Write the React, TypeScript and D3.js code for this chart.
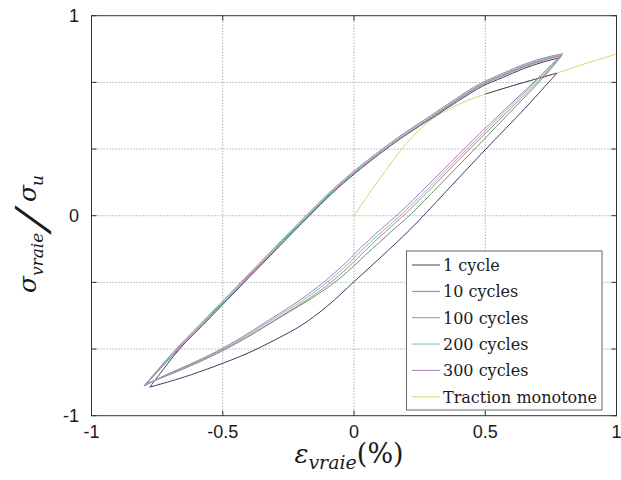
import React from "react";
import * as d3 from "d3";

type P = [number, number];

const xTicks = [-1, -0.5, 0, 0.5, 1];
const xTickLabels = ["-1", "-0.5", "0", "0.5", "1"];
const yTicks = [-1, -2 / 3, -1 / 3, 0, 1 / 3, 2 / 3, 1];
const yLabelTicks = [-1, 0, 1];
const yTickLabels = ["-1", "0", "1"];

const seriesNames = ["1 cycle", "10 cycles", "100 cycles", "200 cycles", "300 cycles", "Traction monotone"];
const seriesColors = ["#3c3c66", "#5f9a6e", "#c47f8e", "#6cc4c0", "#a57fb8", "#d8d27a"];

const monotone: P[] = [[0, 0], [0.06, 0.115], [0.12, 0.225], [0.18, 0.33], [0.24, 0.418], [0.3, 0.485], [0.366, 0.535], [0.43, 0.575], [0.5, 0.608], [0.625, 0.658], [0.773, 0.713], [0.88, 0.76], [1.0, 0.808]];

const cycle1Load: P[] = [[0.5, 0.608], [0.625, 0.658], [0.773, 0.713]];
const cycle1Lower: P[] = [[0.773, 0.713], [0.745, 0.672], [0.65, 0.535], [0.5, 0.33], [0.35, 0.12], [0.213, -0.07], [0.1, -0.21], [0, -0.33], [-0.1, -0.45], [-0.2, -0.548], [-0.3, -0.62], [-0.4, -0.685], [-0.5, -0.738], [-0.62, -0.795], [-0.7, -0.828], [-0.778, -0.857]];
const cycle1Upper: P[] = [[-0.778, -0.857], [-0.745, -0.8], [-0.665, -0.667], [-0.545, -0.505], [-0.418, -0.333], [-0.295, -0.167], [-0.17, 0], [-0.085, 0.11], [0.005, 0.213], [0.122, 0.333], [0.205, 0.41], [0.305, 0.495], [0.395, 0.572], [0.49, 0.648], [0.565, 0.69], [0.645, 0.735], [0.72, 0.768], [0.785, 0.79]];

const cycle10Lower: P[] = [[0.792, 0.802], [0.765, 0.758], [0.71, 0.675], [0.615, 0.545], [0.52, 0.415], [0.42, 0.28], [0.32, 0.145], [0.22, 0.012], [0.14, -0.082], [0.07, -0.165], [0.015, -0.232], [-0.065, -0.325], [-0.14, -0.395], [-0.21, -0.452], [-0.29, -0.515], [-0.39, -0.595], [-0.49, -0.668], [-0.59, -0.732], [-0.69, -0.788], [-0.79, -0.84]];
const cycle10Upper: P[] = [[-0.79, -0.84], [-0.755, -0.79], [-0.668, -0.667], [-0.548, -0.505], [-0.42, -0.333], [-0.298, -0.167], [-0.173, 0], [-0.088, 0.11], [0.002, 0.213], [0.12, 0.333], [0.202, 0.41], [0.302, 0.497], [0.392, 0.578], [0.488, 0.656], [0.562, 0.7], [0.642, 0.745], [0.722, 0.78], [0.792, 0.802]];

const cycle100Lower: P[] = [[0.79, 0.8], [0.76, 0.755], [0.7, 0.67], [0.6, 0.54], [0.5, 0.41], [0.4, 0.28], [0.3, 0.145], [0.2, 0.015], [0.12, -0.08], [0.05, -0.165], [0, -0.23], [-0.08, -0.325], [-0.15, -0.395], [-0.22, -0.455], [-0.3, -0.52], [-0.4, -0.6], [-0.5, -0.672], [-0.6, -0.735], [-0.7, -0.79], [-0.795, -0.845]];
const cycle100Upper: P[] = [[-0.795, -0.845], [-0.76, -0.795], [-0.67, -0.667], [-0.55, -0.505], [-0.423, -0.333], [-0.3, -0.167], [-0.175, 0], [-0.09, 0.11], [0, 0.213], [0.118, 0.333], [0.2, 0.41], [0.3, 0.495], [0.39, 0.575], [0.486, 0.652], [0.56, 0.695], [0.64, 0.74], [0.72, 0.775], [0.79, 0.8]];

const cycle200Lower: P[] = [[0.793, 0.806], [0.752, 0.75], [0.69, 0.668], [0.59, 0.54], [0.49, 0.41], [0.39, 0.28], [0.29, 0.146], [0.19, 0.018], [0.108, -0.078], [0.038, -0.162], [-0.012, -0.228], [-0.092, -0.322], [-0.162, -0.393], [-0.232, -0.455], [-0.312, -0.52], [-0.412, -0.602], [-0.512, -0.675], [-0.612, -0.738], [-0.71, -0.794], [-0.798, -0.848]];
const cycle200Upper: P[] = [[-0.798, -0.848], [-0.764, -0.798], [-0.674, -0.667], [-0.554, -0.505], [-0.427, -0.333], [-0.304, -0.167], [-0.179, 0], [-0.094, 0.11], [-0.004, 0.214], [0.114, 0.334], [0.196, 0.412], [0.296, 0.498], [0.386, 0.578], [0.482, 0.656], [0.556, 0.7], [0.636, 0.745], [0.716, 0.781], [0.793, 0.806]];

const cycle300Lower: P[] = [[0.795, 0.81], [0.745, 0.745], [0.682, 0.664], [0.58, 0.538], [0.478, 0.41], [0.378, 0.28], [0.278, 0.148], [0.178, 0.02], [0.096, -0.075], [0.026, -0.16], [-0.024, -0.226], [-0.104, -0.32], [-0.174, -0.392], [-0.244, -0.455], [-0.324, -0.522], [-0.424, -0.605], [-0.524, -0.679], [-0.624, -0.742], [-0.72, -0.798], [-0.8, -0.852]];
const cycle300Upper: P[] = [[-0.8, -0.852], [-0.767, -0.8], [-0.678, -0.667], [-0.558, -0.505], [-0.431, -0.333], [-0.308, -0.167], [-0.183, 0], [-0.098, 0.11], [-0.008, 0.215], [0.11, 0.336], [0.192, 0.414], [0.292, 0.5], [0.382, 0.58], [0.478, 0.659], [0.552, 0.703], [0.632, 0.749], [0.712, 0.785], [0.795, 0.81]];

const seriesBranches: P[][][] = [
  [cycle1Load, cycle1Lower, cycle1Upper],
  [cycle10Lower, cycle10Upper],
  [cycle100Lower, cycle100Upper],
  [cycle200Lower, cycle200Upper],
  [cycle300Lower, cycle300Upper],
  [monotone],
];

const W = 621;
const H = 480;
const left = 91.5, right = 616.5, top = 15.7, bottom = 415.7;
const SERIF = "DejaVu Serif";
const SANS = "Liberation Sans";

export default function App() {
  const xs = d3.scaleLinear().domain([-1, 1]).range([left, right]);
  const ys = d3.scaleLinear().domain([-1, 1]).range([bottom, top]);
  const line = d3
    .line<P>()
    .x((d) => xs(d[0]))
    .y((d) => ys(d[1]))
    .curve(d3.curveCatmullRom.alpha(0.5));

  const drawOrder = [5, 0, 1, 2, 3, 4];
  const tickLen = 5;
  const gridColor = "#8a8a8a";
  const frameColor = "#333";
  const legX = 406.5, legY = 251, legW = 195.5, legH = 159;
  const legRow0 = 265, legStep = 26.35;

  return (
    <svg width={W} height={H} style={{ position: "absolute", left: 0, top: 0, background: "#fff" }}>
      <rect x={0} y={0} width={W} height={H} fill="#fff" />
      {xTicks.slice(1, -1).map((t) => (
        <line key={"gx" + t} x1={xs(t)} x2={xs(t)} y1={top} y2={bottom} stroke={gridColor} strokeWidth={1} strokeDasharray="1 2" />
      ))}
      {yTicks.slice(1, -1).map((t) => (
        <line key={"gy" + t} x1={left} x2={right} y1={ys(t)} y2={ys(t)} stroke={gridColor} strokeWidth={1} strokeDasharray="1 2" />
      ))}
      {drawOrder.map((si) =>
        seriesBranches[si].map((br, bi) => (
          <path key={"s" + si + "b" + bi} d={line(br) || ""} fill="none" stroke={seriesColors[si]} strokeWidth={1} />
        ))
      )}
      <rect x={left} y={top} width={right - left} height={bottom - top} fill="none" stroke={frameColor} strokeWidth={1} />
      {xTicks.map((t) => (
        <g key={"tx" + t}>
          <line x1={xs(t)} x2={xs(t)} y1={bottom} y2={bottom - tickLen} stroke={frameColor} />
          <line x1={xs(t)} x2={xs(t)} y1={top} y2={top + tickLen} stroke={frameColor} />
        </g>
      ))}
      {yTicks.map((t) => (
        <g key={"ty" + t}>
          <line x1={left} x2={left + tickLen} y1={ys(t)} y2={ys(t)} stroke={frameColor} />
          <line x1={right} x2={right - tickLen} y1={ys(t)} y2={ys(t)} stroke={frameColor} />
        </g>
      ))}
      {xTicks.map((t, i) => (
        <text key={"lx" + t} x={xs(t)} y={438} textAnchor="middle" fontFamily={SANS} fontSize={18} fill="#1a1a1a">
          {xTickLabels[i]}
        </text>
      ))}
      {yLabelTicks.map((t, i) => (
        <text key={"ly" + t} x={79} y={ys(t) + 6.4} textAnchor="end" fontFamily={SANS} fontSize={18} fill="#1a1a1a">
          {yTickLabels[i]}
        </text>
      ))}
      <text x={349} y={463} textAnchor="middle" fontFamily={SERIF} fill="#1a1a1a">
        <tspan fontStyle="italic" fontSize={26}>ε</tspan>
        <tspan fontStyle="italic" fontSize={19} dy={6}>vraie</tspan>
        <tspan fontSize={27} dy={-6}>(%)</tspan>
      </text>
      <g transform="translate(36,293) rotate(-90)" fontFamily={SERIF} fill="#1a1a1a">
        <text x={0} y={0} fontStyle="italic" fontSize={25}>σ</text>
        <text x={17} y={7} fontStyle="italic" fontSize={17}>vraie</text>
        <text transform="translate(60,11) skewX(-22)" fontSize={44}>/</text>
        <text x={91} y={0} fontStyle="italic" fontSize={25}>σ</text>
        <text x={107} y={7} fontStyle="italic" fontSize={17}>u</text>
      </g>
      <rect x={legX} y={legY} width={legW} height={legH} fill="#fff" stroke="#666" strokeWidth={1} />
      {seriesNames.map((name, i) => {
        const cy = legRow0 + i * legStep;
        return (
          <g key={"leg" + i}>
            <line x1={412} x2={440} y1={cy} y2={cy} stroke={seriesColors[i]} strokeWidth={1} />
            <text x={443} y={cy + 6} fontFamily={SERIF} fontSize={16} fill="#1a1a1a">
              {name}
            </text>
          </g>
        );
      })}
    </svg>
  );
}
